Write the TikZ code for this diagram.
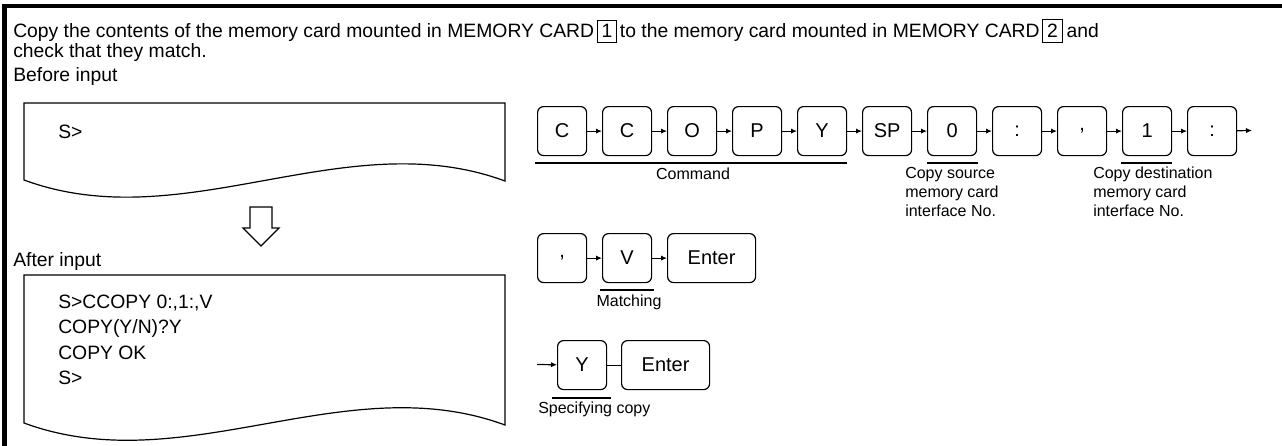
\documentclass[tikz,border=0pt]{standalone}
\usepackage{fontspec}
\setmainfont{Liberation Sans}
\usetikzlibrary{arrows.meta,calc}
\newcommand\numbox[1]{{\setlength\fboxsep{3pt}\setlength\fboxrule{0.6pt}\fbox{#1}}}
\begin{document}
\begin{tikzpicture}[x=0.75pt,y=-0.75pt,
  txt/.style={inner sep=0pt,font=\fontsize{14.5}{18.75}\selectfont,align=left},
  small/.style={inner sep=0pt,font=\fontsize{12}{14.3}\selectfont,align=left},
  key/.style={draw,line width=0.9pt,rounded corners=4.5pt,minimum width=36.75pt,minimum height=36.75pt,inner sep=0pt,anchor=north west,font=\fontsize{15}{18}\selectfont},
  wkey/.style={key,minimum width=66pt},
  conn/.style={line width=0.9pt,-{Latex[length=4.5pt,width=4pt]}},
  plain/.style={line width=0.9pt},
  uline/.style={line width=1.9pt},
  screen/.style={line width=0.9pt},
  frame/.style={line width=3.5pt,line join=miter}]
\useasboundingbox (0,0) rectangle (1282,446);
% outer frame (left and top)
\draw[frame] (4.5,446) -- (4.5,6) -- (1282,6);
% title
\node[txt,anchor=west] (title1) at (13,31) {Copy the contents of the memory card mounted in MEMORY CARD\hspace{2pt}\numbox{1}\hspace{2pt}to the memory card mounted in MEMORY CARD\hspace{2pt}\numbox{2}\hspace{3pt}and};
\node[txt,anchor=west] (title2) at (13,53) {check that they match.};
\node[txt,anchor=west] (before) at (13,77) {Before input};
% before screen
\draw[screen] (24,180) -- (24,103) -- (505,103) -- (505,181) .. controls (345,122) and (184,239) .. (24,180) -- cycle;
\node[txt,anchor=west] (s1) at (58,132) {S>};
% down arrow
\draw[screen] (250,207) -- (272,207) -- (272,228) -- (279,228) -- (261,246) -- (243,228) -- (250,228) -- cycle;
\node[txt,anchor=west] (after) at (13,261) {After input};
% after screen
\draw[screen] (24,423) -- (24,275) -- (505,275) -- (505,425) .. controls (345,366) and (184,482) .. (24,423) -- cycle;
\node[txt,anchor=west] (a1) at (58,303) {S>CCOPY 0:,1:,V};
\node[txt,anchor=west] (a2) at (58,328) {COPY(Y/N)?Y};
\node[txt,anchor=west] (a3) at (58,353) {COPY OK};
\node[txt,anchor=west] (a4) at (58,378) {S>};
% row 1 keys
\node[key] (k0) at (537,106) {C};
\node[key] (k1) at (602,106) {C};
\node[key] (k2) at (667,106) {O};
\node[key] (k3) at (732,106) {P};
\node[key] (k4) at (797,106) {Y};
\node[key] (k5) at (862,106) {SP};
\node[key] (k6) at (927,106) {0};
\node[key] (k7) at (992,106) {:};
\node[key] (k8) at (1057,106) {,};
\node[key] (k9) at (1122,106) {1};
\node[key] (k10) at (1187,106) {:};
\coordinate (r1end) at (1252,130.5);
\draw[conn] (k0) -- (k1);
\draw[conn] (k1) -- (k2);
\draw[conn] (k2) -- (k3);
\draw[conn] (k3) -- (k4);
\draw[conn] (k4) -- (k5);
\draw[conn] (k5) -- (k6);
\draw[conn] (k6) -- (k7);
\draw[conn] (k7) -- (k8);
\draw[conn] (k8) -- (k9);
\draw[conn] (k9) -- (k10);
\draw[conn] (k10) -- (r1end);
\draw[uline] ($(k0.south west)+(-2,7)$) -- ($(k4.south east)+(0,7)$);
\draw[uline] ($(k6.south west)+(0,7)$) -- ($(k6.south east)+(1,7)$);
\draw[uline] ($(k9.south west)+(-1,7)$) -- ($(k9.south east)+(0,7)$);
\node[small,anchor=center] (cmd) at (693,174) {Command};
\node[small,anchor=north west] (src) at (905,167) {Copy source\\memory card\\interface No.};
\node[small,anchor=north west] (dst) at (1093,167) {Copy destination\\memory card\\interface No.};
% row 2 keys
\node[key] (m0) at (537,233) {,};
\node[key] (m1) at (602,233) {V};
\node[wkey] (m2) at (667,233) {Enter};
\draw[conn] (m0) -- (m1);
\draw[conn] (m1) -- (m2);
\draw[uline] ($(m1.south west)+(-2,7)$) -- ($(m1.south east)+(2,7)$);
\node[small,anchor=center] (match) at (629,302) {Matching};
% row 3 keys
\coordinate (r3start) at (537,364.5);
\node[key] (y0) at (557,340) {Y};
\node[wkey] (y1) at (621,340) {Enter};
\draw[conn] (r3start) -- (y0);
\draw[plain] (y0) -- (y1);
\draw[uline] ($(y0.south west)+(-5,8)$) -- ($(y0.south east)+(4,8)$);
\node[small,anchor=west] (spec) at (538,409) {Specifying copy};
\end{tikzpicture}
\end{document}
